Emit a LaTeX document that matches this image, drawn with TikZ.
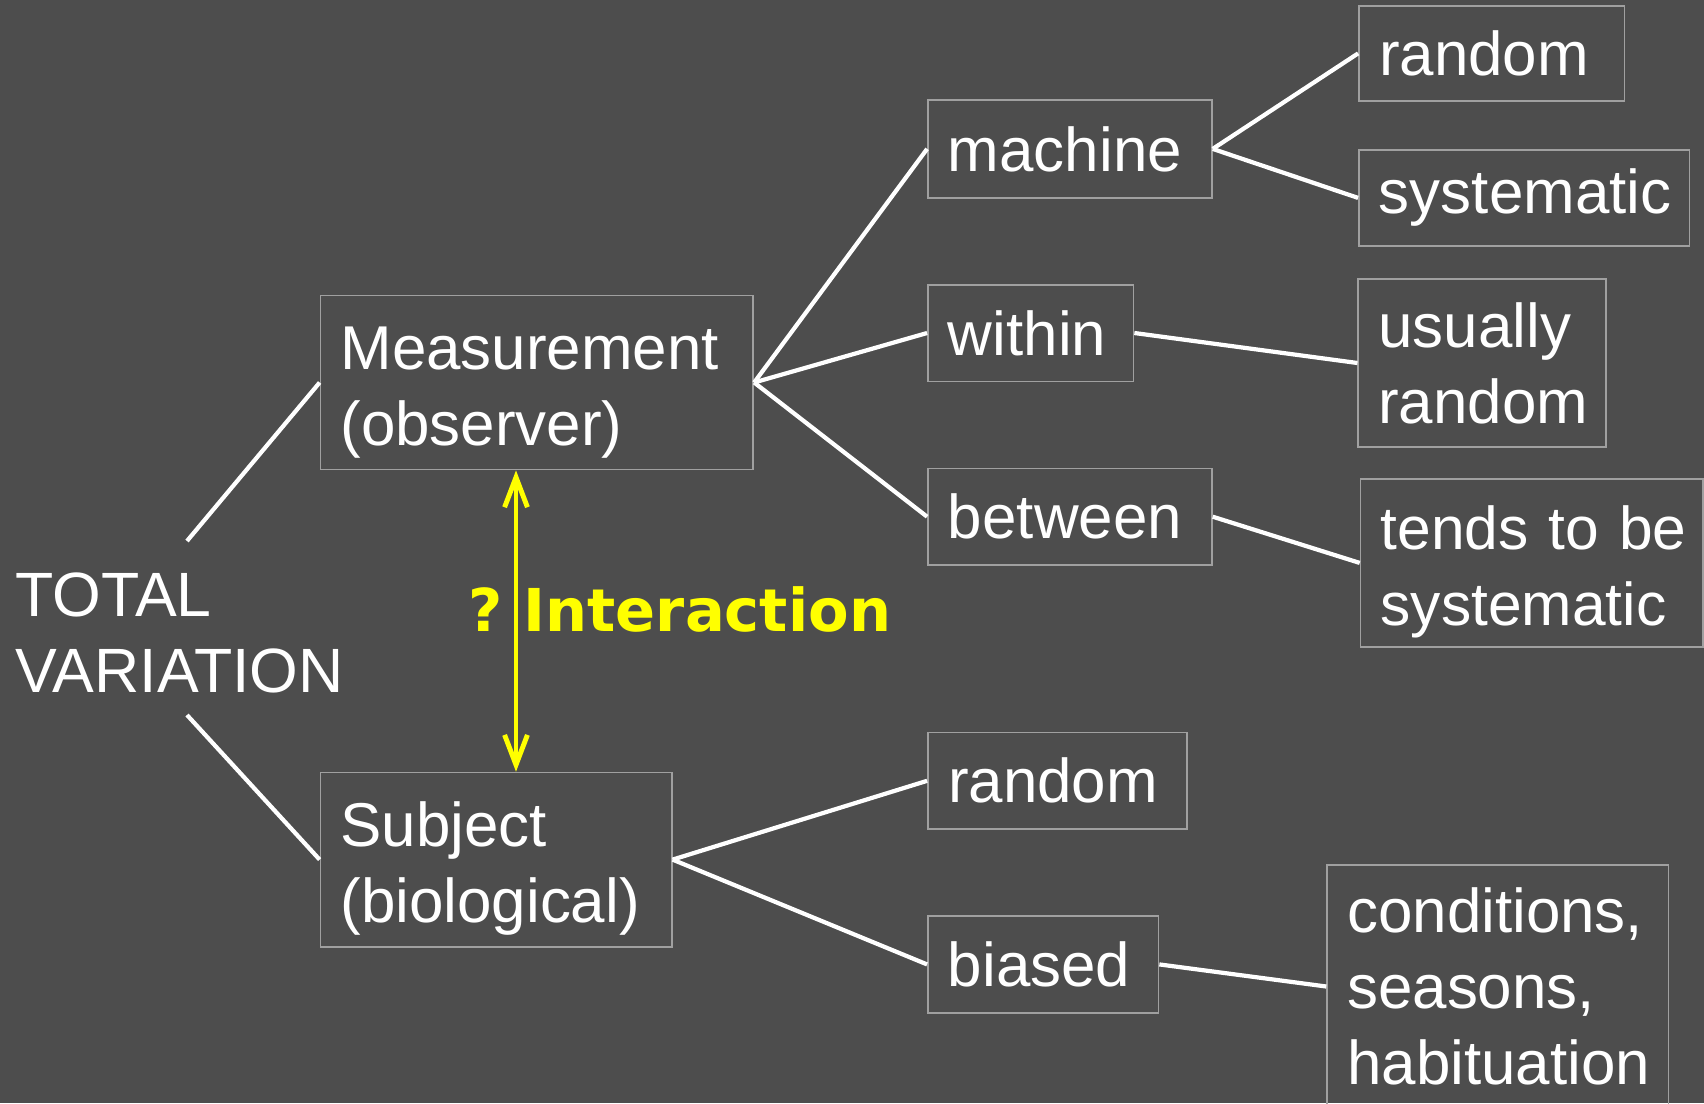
\documentclass[tikz,border=0pt]{standalone}
\usepackage{fontspec}
\setmainfont{Liberation Sans}
\newfontfamily\verdanafont{DejaVu Sans}
\usetikzlibrary{arrows.meta}
\definecolor{fondo}{HTML}{4D4D4D}
\definecolor{borde}{HTML}{A0A0A0}
\definecolor{amarillo}{HTML}{FFFF00}
\tikzset{
  caja/.style={draw=borde, line width=0.5pt, text=white, font=\fontsize{17.6}{21.6}\selectfont,
    inner xsep=0.2cm, inner ysep=0pt, align=left},
  bajar/.style={execute at begin node={\rule{0pt}{0.62cm}}},
  rama/.style={white, line width=1.2pt},
  flecha/.style={amarillo, line width=1.4pt, <->, >={Straight Barb[length=8.5pt,width=6.5pt]}},
}

\begin{document}
\begin{tikzpicture}[x=0.01cm, y=-0.01cm]
        % Fondo
        \fill[fondo] (0,0) rectangle (1704,1103);
        \useasboundingbox (0,0) rectangle (1704,1103);

        % Variacion total
        \node[anchor=base west, inner sep=0pt, align=left, text=white,
              font=\fontsize{17.8}{21.6}\selectfont] (total) at (15,692) {TOTAL\\VARIATION};
        \coordinate (t1) at (187,541);
        \coordinate (t2) at (187,715);

        % Primer nivel
        \node[caja, bajar, text width=3.925cm, minimum height=1.74cm] (meas) at (536.9,382.5) {Measurement\\(observer)};
        \node[caja, bajar, text width=3.11cm, minimum height=1.74cm] (subj) at (496.1,859.6) {Subject\\(biological)};

        % Segundo nivel
        \node[caja, text width=2.437cm, minimum height=0.978cm] (mach) at (1069.9,148.9) {machine};
        \node[caja, text width=1.654cm, minimum height=0.967cm] (within) at (1030.7,333) {within};
        \node[caja, text width=2.437cm, minimum height=0.966cm] (betw) at (1069.9,516.7) {between};
        \node[caja, text width=2.187cm, minimum height=0.968cm] (rand2) at (1057.4,780.8) {random};
        \node[caja, text width=1.904cm, minimum height=0.968cm] (biased) at (1043.2,964.4) {biased};

        % Tercer nivel
        \node[caja, text width=2.253cm, minimum height=0.953cm] (rand1) at (1491.7,53.4) {random};
        \node[caja, text width=2.903cm, minimum height=0.957cm] (syst) at (1524.2,197.9) {systematic};
        \node[caja, text width=2.076cm, minimum height=1.673cm] (usual) at (1482.2,363) {usually\\random};
        \node[caja, bajar, text width=3.023cm, minimum height=1.674cm, font=\fontsize{17.2}{21.6}\selectfont] (tends)
              at (1531.8,562.9) {\mbox{tends to be}\\systematic};
        \node[caja, text width=3.01cm, minimum height=2.43cm] (cond) at (1497.8,986.5) {conditions,\\seasons,\\habituation};

        % Ramas
        \draw[rama] (t1) -- (meas.west);
        \draw[rama] (t2) -- (subj.west);
        \foreach \a/\b in {meas/mach, meas/within, meas/betw, mach/rand1, mach/syst,
                           within/usual, betw/tends, subj/rand2, subj/biased, biased/cond}
            \draw[rama] (\a.east) -- (\b.west);

        % Interaccion
        \node[anchor=base west, inner sep=0pt, text=amarillo,
              font=\verdanafont\bfseries\fontsize{16.8}{20}\selectfont] (inter) at (468,631) {?\ Interaction};
        \coordinate (ax) at (516,0);
        \draw[flecha] (meas.south -| ax) -- (subj.north -| ax);
\end{tikzpicture}
\end{document}
